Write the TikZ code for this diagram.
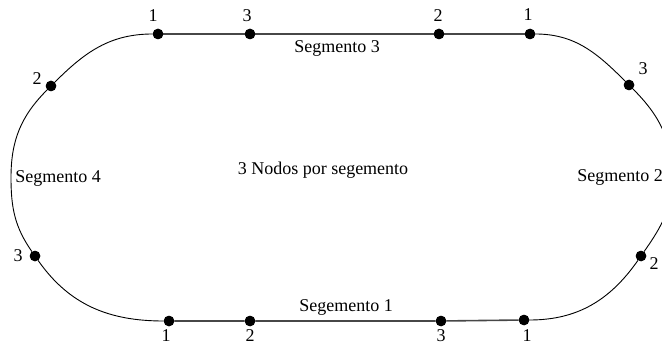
\documentclass[tikz,border=0pt]{standalone}
\usepackage{fontspec}
\setmainfont{Liberation Serif}
\begin{document}
\begin{tikzpicture}[x=1pt,y=1pt,
  dot/.style={circle,fill=black,inner sep=0pt,minimum size=10.5pt},
  lbl/.style={inner sep=0pt,font=\fontsize{18}{20}\selectfont},
  seg/.style={draw=black!72,line width=1.6pt},
  crv/.style={draw=black,line width=0.9pt}]
\clip (0,0) rectangle (662,346);
% nodes (dots)
\node[dot] (t1) at (158,312) {};
\node[dot] (t3) at (250,312) {};
\node[dot] (t2) at (439,312) {};
\node[dot] (t1r) at (530,312) {};
\node[dot] (l2) at (51,260) {};
\node[dot] (l3) at (35,90) {};
\node[dot] (b1) at (169,25) {};
\node[dot] (b2) at (250,25) {};
\node[dot] (b3) at (441,25) {};
\node[dot] (b1r) at (524,26) {};
\node[dot] (r3) at (629,261) {};
\node[dot] (r2) at (641,90) {};
\coordinate (lm) at (11,168.5);
\coordinate (rm) at (672,168.5);
% straight segments
\draw[seg] (t1) -- (t3) -- (t2) -- (t1r);
\draw[seg] (b1) -- (b2) -- (b3) -- (b1r);
% curved segments
\draw[crv] (t1) to[out=180,in=45] (l2) to[out=225,in=90] (lm)
  to[out=270,in=125] (l3) to[out=305,in=180] (b1);
\draw[crv] (t1r) to[out=0,in=135] (r3) to[out=315,in=90] (rm)
  to[out=270,in=55] (r2) to[out=235,in=0] (b1r);
% redraw dots on top
\foreach \n in {t1,t3,t2,t1r,l2,l3,b1,b2,b3,b1r,r3,r2}
  \fill (\n) circle (5.25pt);
% node labels
\node[lbl] (lt1) at (153,330) {1};
\node[lbl] (lt3) at (247,330) {3};
\node[lbl] (lt2) at (438,330) {2};
\node[lbl] (lt1r) at (528,331) {1};
\node[lbl] (ll2) at (37,267) {2};
\node[lbl] (lr3) at (643,277) {3};
\node[lbl] (ll3) at (18,90) {3};
\node[lbl] (lr2) at (654,82) {2};
\node[lbl] (lb1) at (166,10) {1};
\node[lbl] (lb2) at (250,10) {2};
\node[lbl] (lb3) at (441,10) {3};
\node[lbl] (lb1r) at (527,10) {1};
% segment labels
\node[lbl] (s3) at (337,298) {Segmento 3};
\node[lbl] (s1) at (346,39) {Segemento 1};
\node[lbl] (s4) at (58,168) {Segmento 4};
\node[lbl] (s2) at (620,169) {Segmento 2};
\node[lbl] (txt) at (323,176) {3 Nodos por segemento};
\end{tikzpicture}
\end{document}
